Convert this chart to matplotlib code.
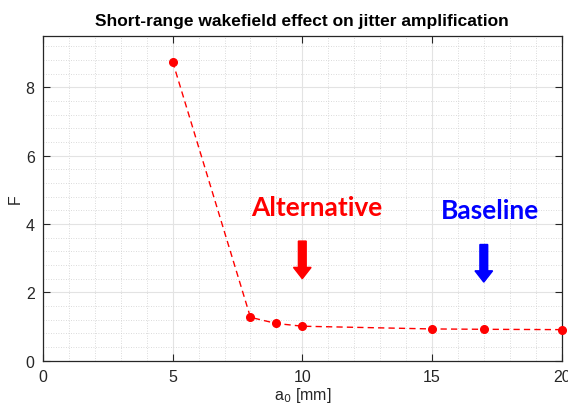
import matplotlib
matplotlib.use("Agg")
import matplotlib.pyplot as plt
from matplotlib.ticker import MultipleLocator


aperture = [5, 8, 9, 10, 15, 17, 20]
factor = [8.75, 1.27, 1.09, 1.01, 0.93, 0.92, 0.91]

x_ticks = [0, 5, 10, 15, 20]
y_ticks = [0, 2, 4, 6, 8]

labels = ["Alternative", "Baseline"]
arrow_x = [10, 17]
label_x = [10.55, 17.25]
label_colors = ["#ff0000", "#0000ff"]


def main():
    plt.rcParams["font.family"] = ["Liberation Sans", "DejaVu Sans"]
    fig = plt.figure(figsize=(5.68, 4.06), dpi=100)
    ax = fig.add_axes([0.0757, 0.109, 0.913, 0.8])

    ax.plot(aperture, factor, color="#ff0000", linestyle="--", linewidth=1.0,
            marker="o", markersize=5.5, dashes=(4.5, 3), clip_on=False, zorder=5)

    ax.set_xlim(0, 20)
    ax.set_ylim(0, 9.5)
    ax.set_xticks(x_ticks)
    ax.set_yticks(y_ticks)
    ax.xaxis.set_minor_locator(MultipleLocator(1))
    ax.yaxis.set_minor_locator(MultipleLocator(0.4))

    ax.grid(True, which="major", color="#e3e3e3", linewidth=0.8, linestyle="-")
    ax.grid(True, which="minor", color="#cfcfcf", linewidth=0.6, linestyle=(0, (1, 2)))
    ax.set_axisbelow(True)

    ax.tick_params(which="major", direction="in", length=5, width=0.8,
                   top=True, right=True, labelsize=11.5, colors="#262626", pad=6)
    ax.tick_params(which="minor", length=0, top=True, right=True)
    for spine in ax.spines.values():
        spine.set_color("#262626")
        spine.set_linewidth(0.9)

    ax.set_xlabel("a$_0$ [mm]", fontsize=11.5, color="#262626", labelpad=1)
    ax.set_ylabel("F", fontsize=11.5, color="#262626", labelpad=2)
    ax.set_title("Short-range wakefield effect on jitter amplification",
                 fontsize=12.5, fontweight="bold", pad=8)

    # annotation labels with down arrows
    for name, tx, xv, col in zip(labels, label_x, arrow_x, label_colors):
        ty = 4.5 if name == "Alternative" else 4.4
        ax.text(tx, ty, name, color=col, fontsize=19, fontweight="bold",
                family="Lato", ha="center", va="center")
        top = 3.5 if name == "Alternative" else 3.4
        ax.arrow(xv, top, 0, -0.77, width=0.3, head_width=0.68,
                 head_length=0.33, length_includes_head=False,
                 color=col, zorder=6)

    fig.savefig("out.png", dpi=100)
    plt.close(fig)


if __name__ == "__main__":
    main()
